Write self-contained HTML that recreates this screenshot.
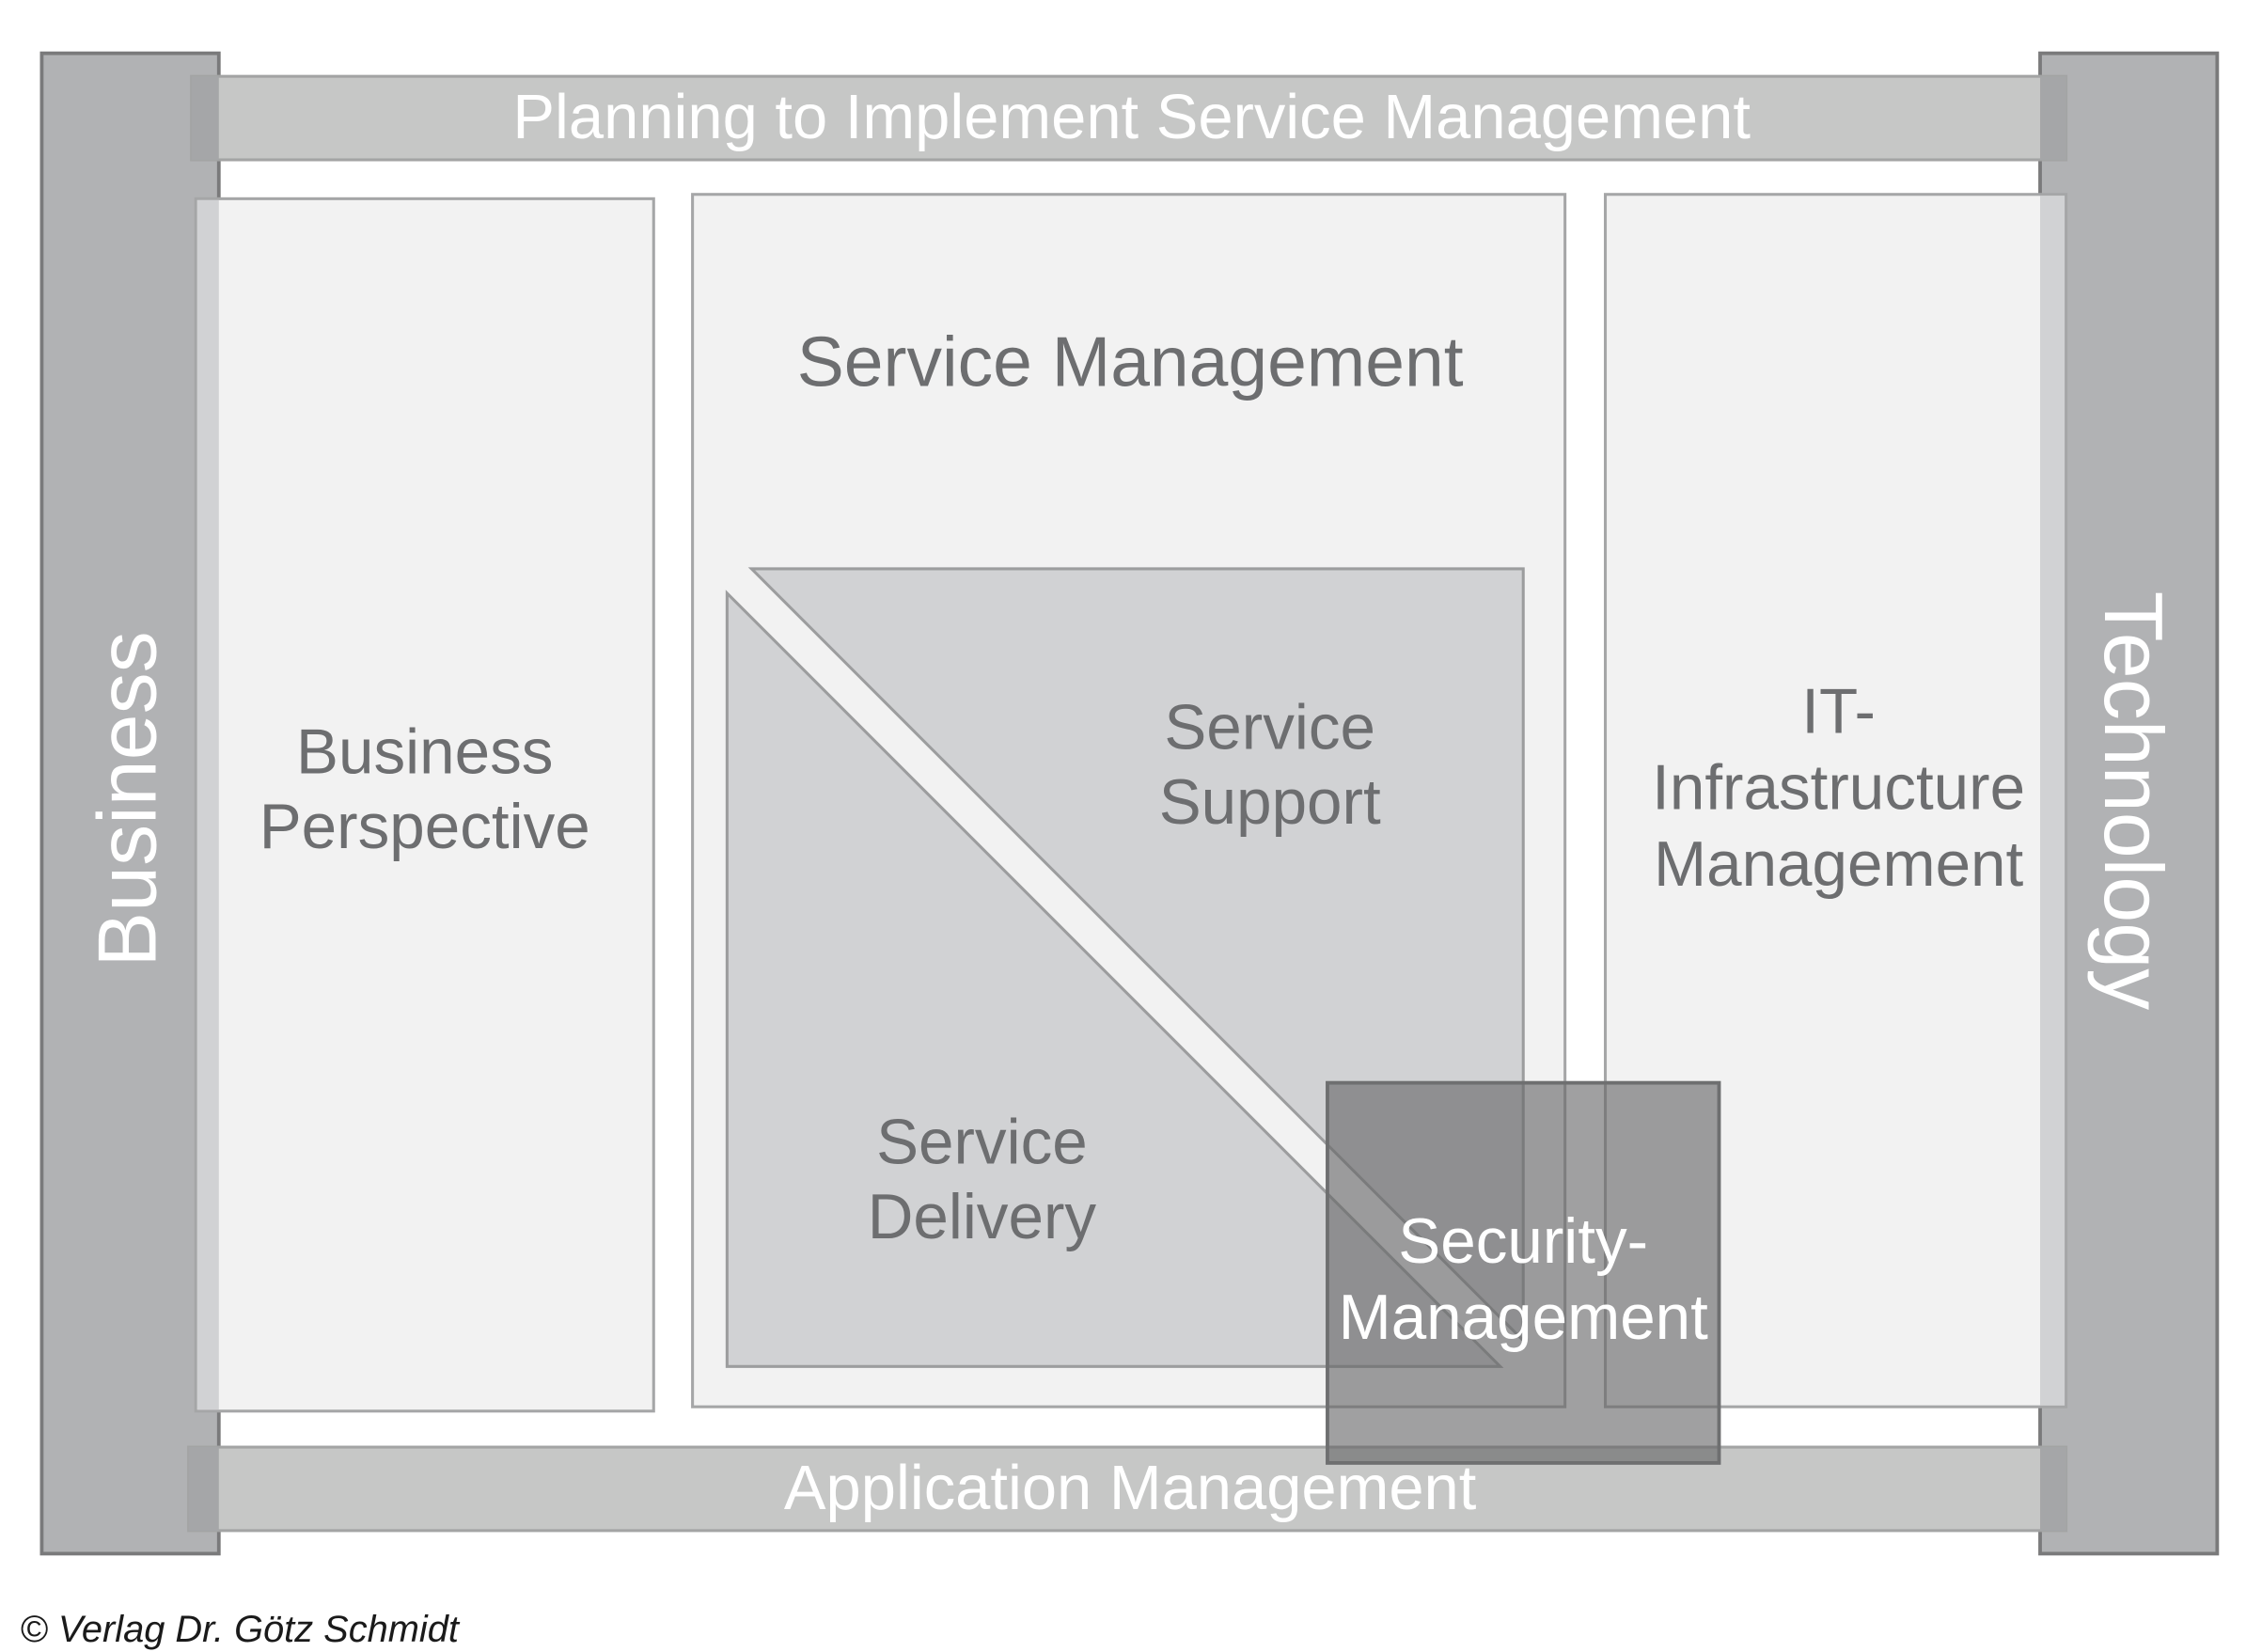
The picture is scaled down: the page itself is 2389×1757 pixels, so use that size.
<!DOCTYPE html>
<html><head><meta charset="utf-8"><style>
html,body{margin:0;padding:0;background:#fff;}
svg{display:block;}
text{font-family:"Liberation Sans",Arial,sans-serif;}
</style></head><body>
<svg width="2389" height="1757" viewBox="0 0 1560 1147.3" preserveAspectRatio="none" xmlns="http://www.w3.org/2000/svg">
<rect x="0" y="0" width="1560" height="1148" fill="#fff"/>
<rect x="29" y="37" width="123" height="1042" fill="#b1b2b4" stroke="#7a7a7b" stroke-width="2.5"/>
<rect x="1417" y="37" width="123" height="1042" fill="#b1b2b4" stroke="#7a7a7b" stroke-width="2.5"/>
<rect x="133" y="53" width="1302" height="58" fill="#c6c7c6" stroke="#a3a4a4" stroke-width="2"/>
<rect x="133" y="53" width="19" height="58" fill="#a5a6a8"/>
<rect x="1417" y="53" width="18" height="58" fill="#a5a6a8"/>
<rect x="131" y="1005" width="1304" height="58" fill="#c6c7c6" stroke="#a3a4a4" stroke-width="2"/>
<rect x="131" y="1005" width="21" height="58" fill="#a5a6a8"/>
<rect x="1417" y="1005" width="18" height="58" fill="#a5a6a8"/>
<rect x="136" y="138" width="318" height="842" fill="#f2f2f2" stroke="#a5a6a7" stroke-width="2"/>
<rect x="137" y="139" width="15" height="840" fill="#d1d2d4"/>
<rect x="481" y="135" width="606" height="842" fill="#f2f2f2" stroke="#a5a6a7" stroke-width="2"/>
<rect x="1115" y="135" width="320" height="842" fill="#f2f2f2" stroke="#a5a6a7" stroke-width="2"/>
<rect x="1417" y="136" width="17" height="840" fill="#d1d2d4"/>
<polygon points="522,395 1058,395 1058,931" fill="#d1d2d4" stroke="#9c9d9e" stroke-width="2"/>
<polygon points="505,412 505,949 1042,949" fill="#d1d2d4" stroke="#9c9d9e" stroke-width="2"/>
<rect x="922" y="752" width="272" height="264" fill="#656667" fill-opacity="0.62" stroke="#6e6f70" stroke-width="2.5"/>
<g fill="#fff" font-size="43.7" text-anchor="middle">
<text x="786" y="96">Planning to Implement Service Management</text>
<text x="785" y="1048">Application Management</text>
<text x="1058" y="877" font-size="44">Security-</text>
<text x="1058" y="930" font-size="44">Management</text>
</g>
<text x="0" y="0" fill="#fff" font-size="57.5" text-anchor="middle" transform="translate(108,555) rotate(-90)">Business</text>
<text x="0" y="0" fill="#fff" font-size="57.5" text-anchor="middle" transform="translate(1462,556) rotate(90)">Technology</text>
<g fill="#6d6e70" font-size="44" text-anchor="middle">
<text x="785" y="268" font-size="49">Service Management</text>
<text x="295" y="537">Business</text>
<text x="295" y="589">Perspective</text>
<text x="882" y="520">Service</text>
<text x="882" y="572">Support</text>
<text x="682" y="808">Service</text>
<text x="682" y="860">Delivery</text>
<text x="1277" y="509">IT-</text>
<text x="1277" y="562">Infrastructure</text>
<text x="1277" y="615">Management</text>
</g>
<text x="14" y="1140" fill="#1a1a1a" font-size="26" font-style="italic">© Verlag Dr. Götz Schmidt</text>
</svg>
</body></html>
